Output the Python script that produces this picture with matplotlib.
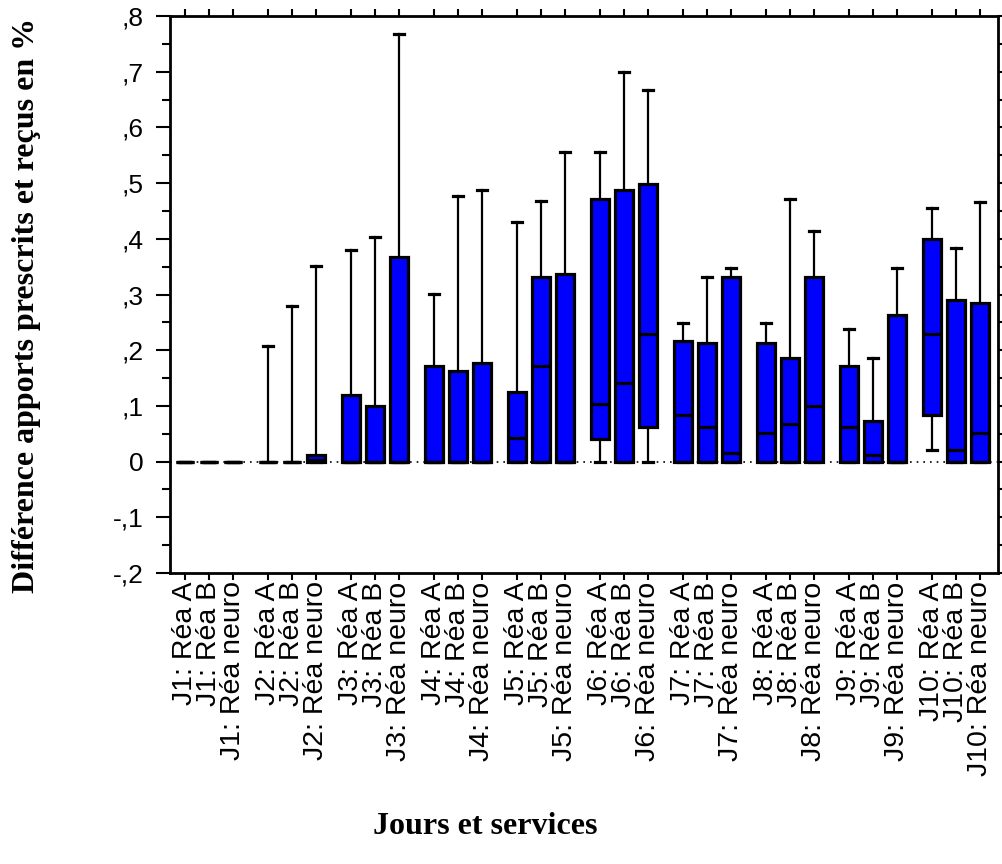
import matplotlib.pyplot as plt
import numpy as np

# Données (différence en %)
jours = ["J1", "J2", "J3", "J4", "J5", "J6", "J7", "J8", "J9", "J10"]
services = ["Réa A", "Réa B", "Réa neuro"]

q1 = [0, 0, 0,
      0, 0, 0,
      0, 0, 0,
      0, 0, 0,
      0, 0, 0,
      0.041, 0, 0.062,
      0, 0, 0,
      0, 0, 0,
      0, 0, 0,
      0.083, 0, 0]
med = [0, 0, 0,
       0, 0, 0.003,
       0, 0, 0,
       0, 0, 0,
       0.042, 0.171, 0,
       0.104, 0.141, 0.229,
       0.083, 0.062, 0.015,
       0.051, 0.068, 0.099,
       0.062, 0.011, 0,
       0.229, 0.021, 0.051]
q3 = [0, 0, 0,
      0, 0, 0.011,
      0.120, 0.099, 0.368,
      0.171, 0.162, 0.177,
      0.125, 0.332, 0.337,
      0.472, 0.487, 0.498,
      0.217, 0.213, 0.331,
      0.213, 0.186, 0.331,
      0.171, 0.072, 0.264,
      0.399, 0.290, 0.285]
whis_lo = [0, 0, 0,
           0, 0, 0,
           0, 0, 0,
           0, 0, 0,
           0, 0, 0,
           0, 0, 0,
           0, 0, 0,
           0, 0, 0,
           0, 0, 0,
           0.021, 0, 0]
whis_hi = [0, 0, 0,
           0.207, 0.280, 0.352,
           0.379, 0.404, 0.767,
           0.301, 0.477, 0.487,
           0.431, 0.467, 0.555,
           0.555, 0.700, 0.668,
           0.249, 0.331, 0.347,
           0.249, 0.471, 0.414,
           0.238, 0.186, 0.347,
           0.456, 0.383, 0.466]

labels = [f"{j}: {s}" for j in jours for s in services]
group_step = 3.43
positions = [g * group_step + k for g in range(len(jours)) for k in range(len(services))]

stats = []
for i in range(len(labels)):
    stats.append(dict(q1=q1[i], med=med[i], q3=q3[i],
                      whislo=whis_lo[i], whishi=whis_hi[i], fliers=[]))

fig = plt.figure(figsize=(10.02, 8.64), dpi=100)
ax = fig.add_axes([170 / 1002, 1 - 573 / 864, 828 / 1002, 557 / 864])

ax.axhline(0, color="black", ls=(0, (1, 3)), lw=1.2, zorder=1)

ax.bxp(stats, positions=positions, widths=0.74, capwidths=0.42,
       showfliers=False, patch_artist=True,
       boxprops=dict(facecolor="#0000ff", edgecolor="black", linewidth=2.3),
       medianprops=dict(color="black", linewidth=2.3),
       whiskerprops=dict(color="black", linewidth=1.6),
       capprops=dict(color="black", linewidth=2.3),
       zorder=3)

ax.set_xlim(-0.62, positions[-1] + 0.74)
ax.set_ylim(-0.2, 0.8)

yt = np.round(np.arange(-0.2, 0.81, 0.1), 2)
ylab = ["-,2", "-,1", "0", ",1", ",2", ",3", ",4", ",5", ",6", ",7", ",8"]
ax.set_yticks(yt)
ax.set_yticklabels(ylab, fontsize=19, family="Liberation Sans")
ax.set_yticks(np.round(np.arange(-0.15, 0.8, 0.1), 2), minor=True)
ax.tick_params(axis="y", which="major", direction="out", length=10, width=1.5, pad=9)
ax.tick_params(axis="y", which="minor", direction="out", length=6, width=1.5)

ax.set_xticks(positions)
ax.set_xticklabels(labels, rotation=90, fontsize=20.5, family="Liberation Sans")
ax.tick_params(axis="x", direction="out", length=5, width=1.5, pad=1)

for s in ax.spines.values():
    s.set_linewidth(2)

# axes secondaires : graduations en haut et à droite
axr = ax.secondary_yaxis("right")
axr.set_yticks(np.round(np.arange(-0.2, 0.81, 0.05), 2))
axr.set_yticklabels([])
axr.tick_params(direction="out", length=4, width=1.5)
axt = ax.secondary_xaxis("top")
axt.set_xticks(positions)
axt.set_xticklabels([])
axt.tick_params(direction="out", length=5, width=1.5)

fig.text(27 / 1002, 1 - 305 / 864, "Différence apports prescrits et reçus en %",
         rotation=90, ha="center", va="center", fontsize=23,
         family="Liberation Serif", weight="bold")
fig.text(485 / 1002, 1 - 826 / 864, "Jours et services", ha="center", va="center",
         fontsize=23, family="Liberation Serif", weight="bold")

fig.savefig("out.png", dpi=100)
